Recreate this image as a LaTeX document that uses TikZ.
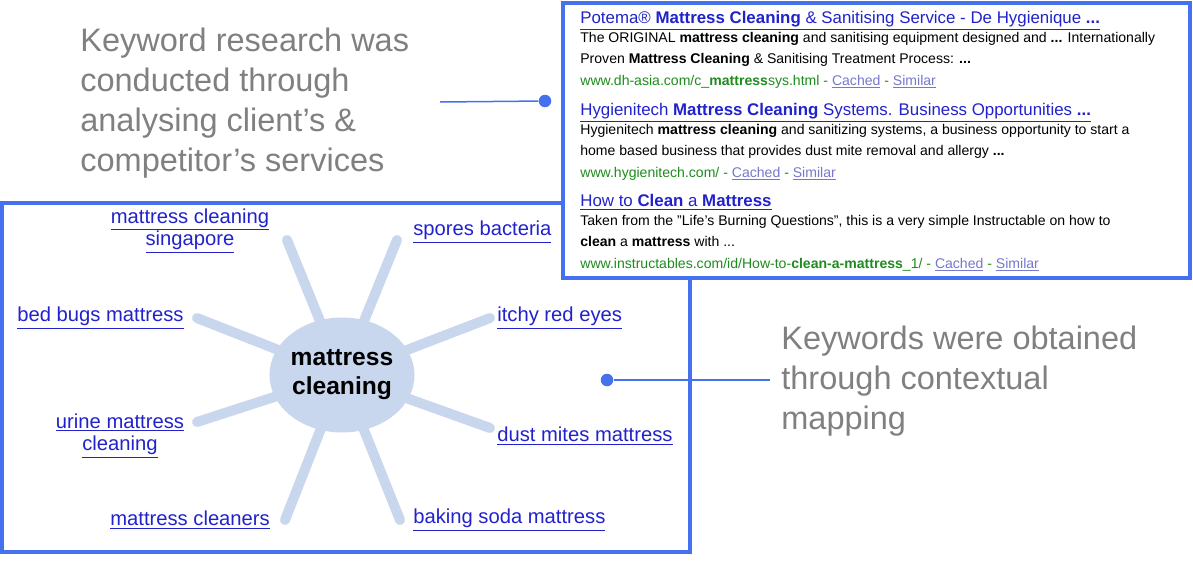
\documentclass[tikz,border=0pt]{standalone}
\usepackage{fontspec}
\setmainfont{Liberation Sans}
\usetikzlibrary{shapes.geometric}
\definecolor{frame}{HTML}{4472EE}
\definecolor{spoke}{HTML}{C8D6EE}
\definecolor{lnk}{HTML}{2222CC}
\definecolor{url}{HTML}{1E8C1E}
\definecolor{cach}{HTML}{7777CC}
\definecolor{note}{HTML}{808080}
\tikzset{
  panel/.style={draw=frame,line width=0.08cm,fill=white},
  spk/.style={draw=spoke,line width=0.2cm,line cap=round},
  kw/.style={text=lnk,font=\fontsize{11.5}{14}\selectfont,inner sep=0pt,align=center},
  bigtxt/.style={text=note,font=\fontsize{18.5}{22.7}\selectfont,inner sep=0pt,align=left,anchor=north west},
  res/.style={inner sep=0pt,anchor=north west,align=left},
  conn/.style={draw=frame,line width=0.03cm},
  dot/.style={circle,fill=frame,inner sep=0pt,minimum size=0.25cm}
}
\newcommand{\ttl}[1]{{\fontsize{9.6}{11}\selectfont\color{lnk}\underline{#1}}}
\newcommand{\bdy}{\fontsize{8}{9.1}\selectfont}
\begin{document}
\begin{tikzpicture}[x=0.02cm,y=-0.02cm]
\useasboundingbox (0,0) rectangle (1193,565);
% wheel panel
\draw[panel] (2,203) rectangle (690,552);
\coordinate (c) at (342,375);
\coordinate (s1) at (287,240);\coordinate (s2) at (397,240);
\coordinate (s3) at (197,318);\coordinate (s4) at (490,318);
\coordinate (s5) at (197,422);\coordinate (s6) at (490,428);
\coordinate (s7) at (285,520);\coordinate (s8) at (400,520);
\foreach \s in {s1,s2,s3,s4,s5,s6,s7,s8} \draw[spk] (\s) -- (c);
\node[ellipse,fill=spoke,minimum width=2.8cm,minimum height=2.3cm,inner sep=0pt,align=center,font=\bfseries\fontsize{14}{16.5}\selectfont] (hub) at (c) {mattress\\cleaning};
\node[kw] (k1) at (190,231) {\underline{mattress cleaning}\\[-1pt]\underline{singapore}};
\node[kw,anchor=west] (k2) at (413,232) {\underline{spores bacteria}};
\node[kw,anchor=west] (k3) at (17,318) {\underline{bed bugs mattress}};
\node[kw,anchor=west] (k4) at (497,318) {\underline{itchy red eyes}};
\node[kw] (k5) at (120,436) {\underline{urine mattress}\\[-1pt]\underline{cleaning}};
\node[kw,anchor=west] (k6) at (497,436) {\underline{dust mites mattress}};
\node[kw,anchor=west] (k7) at (110,520) {\underline{mattress cleaners}};
\node[kw,anchor=west] (k8) at (413,520) {\underline{baking soda mattress}};
% results panel
\draw[panel] (563,3) rectangle (1190,278);
\node[res] (r1) at (580,11) {\ttl{Potema® \textbf{Mattress Cleaning} \& Sanitising Service - De Hygienique \textbf{...}}\\[-1pt]
 \bdy The ORIGINAL \textbf{mattress cleaning} and sanitising equipment designed and \textbf{...} Internationally\\
 \bdy Proven \textbf{Mattress Cleaning} \& Sanitising Treatment Process: \textbf{...}\\
 \bdy\color{url}www.dh-asia.com/c\_\textbf{mattress}sys.html - {\color{cach}\underline{Cached}} - {\color{cach}\underline{Similar}}};
\node[res] (r2) at (580,103) {\ttl{Hygienitech \textbf{Mattress Cleaning} Systems. Business Opportunities \textbf{...}}\\[-1pt]
 \bdy Hygienitech \textbf{mattress cleaning} and sanitizing systems, a business opportunity to start a\\
 \bdy home based business that provides dust mite removal and allergy \textbf{...}\\
 \bdy\color{url}www.hygienitech.com/ - {\color{cach}\underline{Cached}} - {\color{cach}\underline{Similar}}};
\node[res] (r3) at (580,194) {\ttl{How to \textbf{Clean} a \textbf{Mattress}}\\[-1pt]
 \bdy Taken from the "Life's Burning Questions", this is a very simple Instructable on how to\\
 \bdy \textbf{clean} a \textbf{mattress} with ...\\
 \bdy\color{url}www.instructables.com/id/How-to-\textbf{clean-a-mattress}\_1/ - {\color{cach}\underline{Cached}} - {\color{cach}\underline{Similar}}};
% annotations
\node[bigtxt] (n1) at (80,28) {Keyword research was\\conducted through\\analysing client’s \&\\competitor’s services};
\node[bigtxt] (n2) at (781,326) {Keywords were obtained\\through contextual\\mapping};
\coordinate (a1) at (440,102);
\node[dot] (d1) at (545,101) {};
\draw[conn] (a1) -- (d1);
\coordinate (a2) at (770,380);
\node[dot] (d2) at (607,380) {};
\draw[conn] (d2) -- (a2);
\end{tikzpicture}
\end{document}
